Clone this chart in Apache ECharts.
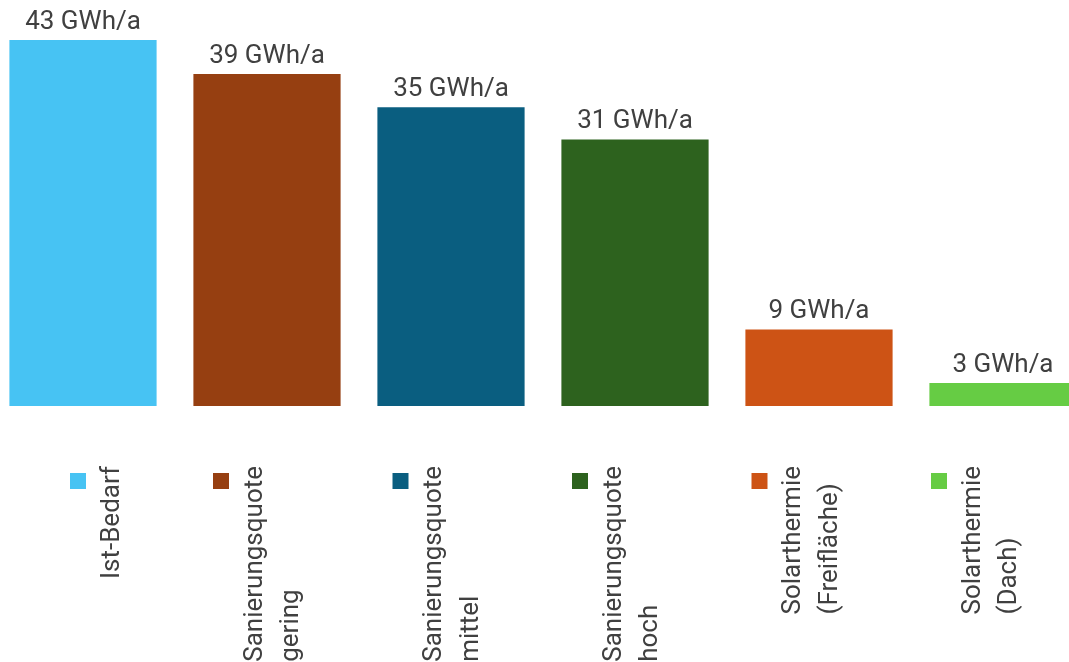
<!DOCTYPE html>
<html>
<head>
<meta charset="utf-8">
<script src="https://cdn.jsdelivr.net/npm/echarts@6/dist/echarts.min.js"></script>
<style>
  html, body { margin: 0; padding: 0; background: #ffffff; overflow: hidden; width: 1069px; height: 662px; position: relative; }
  #chart { position: absolute; left: -9px; top: 0; width: 1104px; height: 662px; }
</style>
</head>
<body>
<div id="chart"></div>
<script>
// ---- data ----
const categories = [
  'Ist-Bedarf',
  'Sanierungsquote\ngering',
  'Sanierungsquote\nmittel',
  'Sanierungsquote\nhoch',
  'Solarthermie\n(Freifläche)',
  'Solarthermie\n(Dach)'
];
const values = [43, 39, 35.1, 31.3, 9, 2.7];
const unit = ' GWh/a';
const colors = ['#47C3F3', '#963F11', '#0A5E80', '#2D621E', '#CD5315', '#66CC44'];

// ---- style / layout constants ----
const FONT = 'Roboto, "Noto Sans", sans-serif';
const FS = 26;
const TEXT_COLOR = '#404040';
const OFFSET = 9;           // chart div is shifted left by this much
const LEGEND_LEFT = 70 + OFFSET;
const SQ = 16;
const SQ_TOP = 473;
const TEXT_TOP = 466;
const LINE = 36.5;
const TEXT_OFFSET = 42;
const ITEM_ADV = 143;

const chart = echarts.init(document.getElementById('chart'), null, { renderer: 'canvas' });

// measure text for rotated legend
const ctx = document.createElement('canvas').getContext('2d');
ctx.font = FS + 'px Roboto';
const legendEls = [];
let lx = LEGEND_LEFT;
categories.forEach((c, i) => {
  const lines = c.split('\n');
  const maxW = Math.max(...lines.map(l => ctx.measureText(l).width));
  legendEls.push({
    type: 'rect',
    shape: { x: lx, y: SQ_TOP, width: SQ, height: SQ },
    style: { fill: colors[i] },
    silent: true
  });
  lines.forEach((l, k) => {
    legendEls.push({
      type: 'text',
      x: lx + TEXT_OFFSET + k * LINE,
      y: TEXT_TOP + maxW,
      rotation: Math.PI / 2,
      silent: true,
      style: {
        text: l, x: 0, y: 0,
        fill: TEXT_COLOR,
        font: FS + 'px Roboto',
        align: 'left', textAlign: 'left',
        verticalAlign: 'middle', textVerticalAlign: 'middle'
      }
    });
  });
  lx += ITEM_ADV + (lines.length - 1) * LINE;
});

const option = {
  backgroundColor: '#ffffff',
  animation: false,
  grid: { left: 0, right: 0, top: 40, height: 366, containLabel: false },
  xAxis: {
    type: 'category',
    data: categories,
    show: false
  },
  yAxis: {
    type: 'value',
    min: 0,
    max: Math.max(...values),
    show: false
  },
  series: [{
    type: 'bar',
    barWidth: '80%',
    data: values.map((v, i) => ({ value: v, itemStyle: { color: colors[i] } })),
    label: {
      show: true,
      position: 'top',
      distance: 5,
      formatter: p => Math.round(p.value) + unit,
      fontFamily: FONT,
      fontSize: FS,
      color: TEXT_COLOR
    }
  }],
  graphic: { elements: legendEls }
};
chart.setOption(option);
</script>
</body>
</html>
